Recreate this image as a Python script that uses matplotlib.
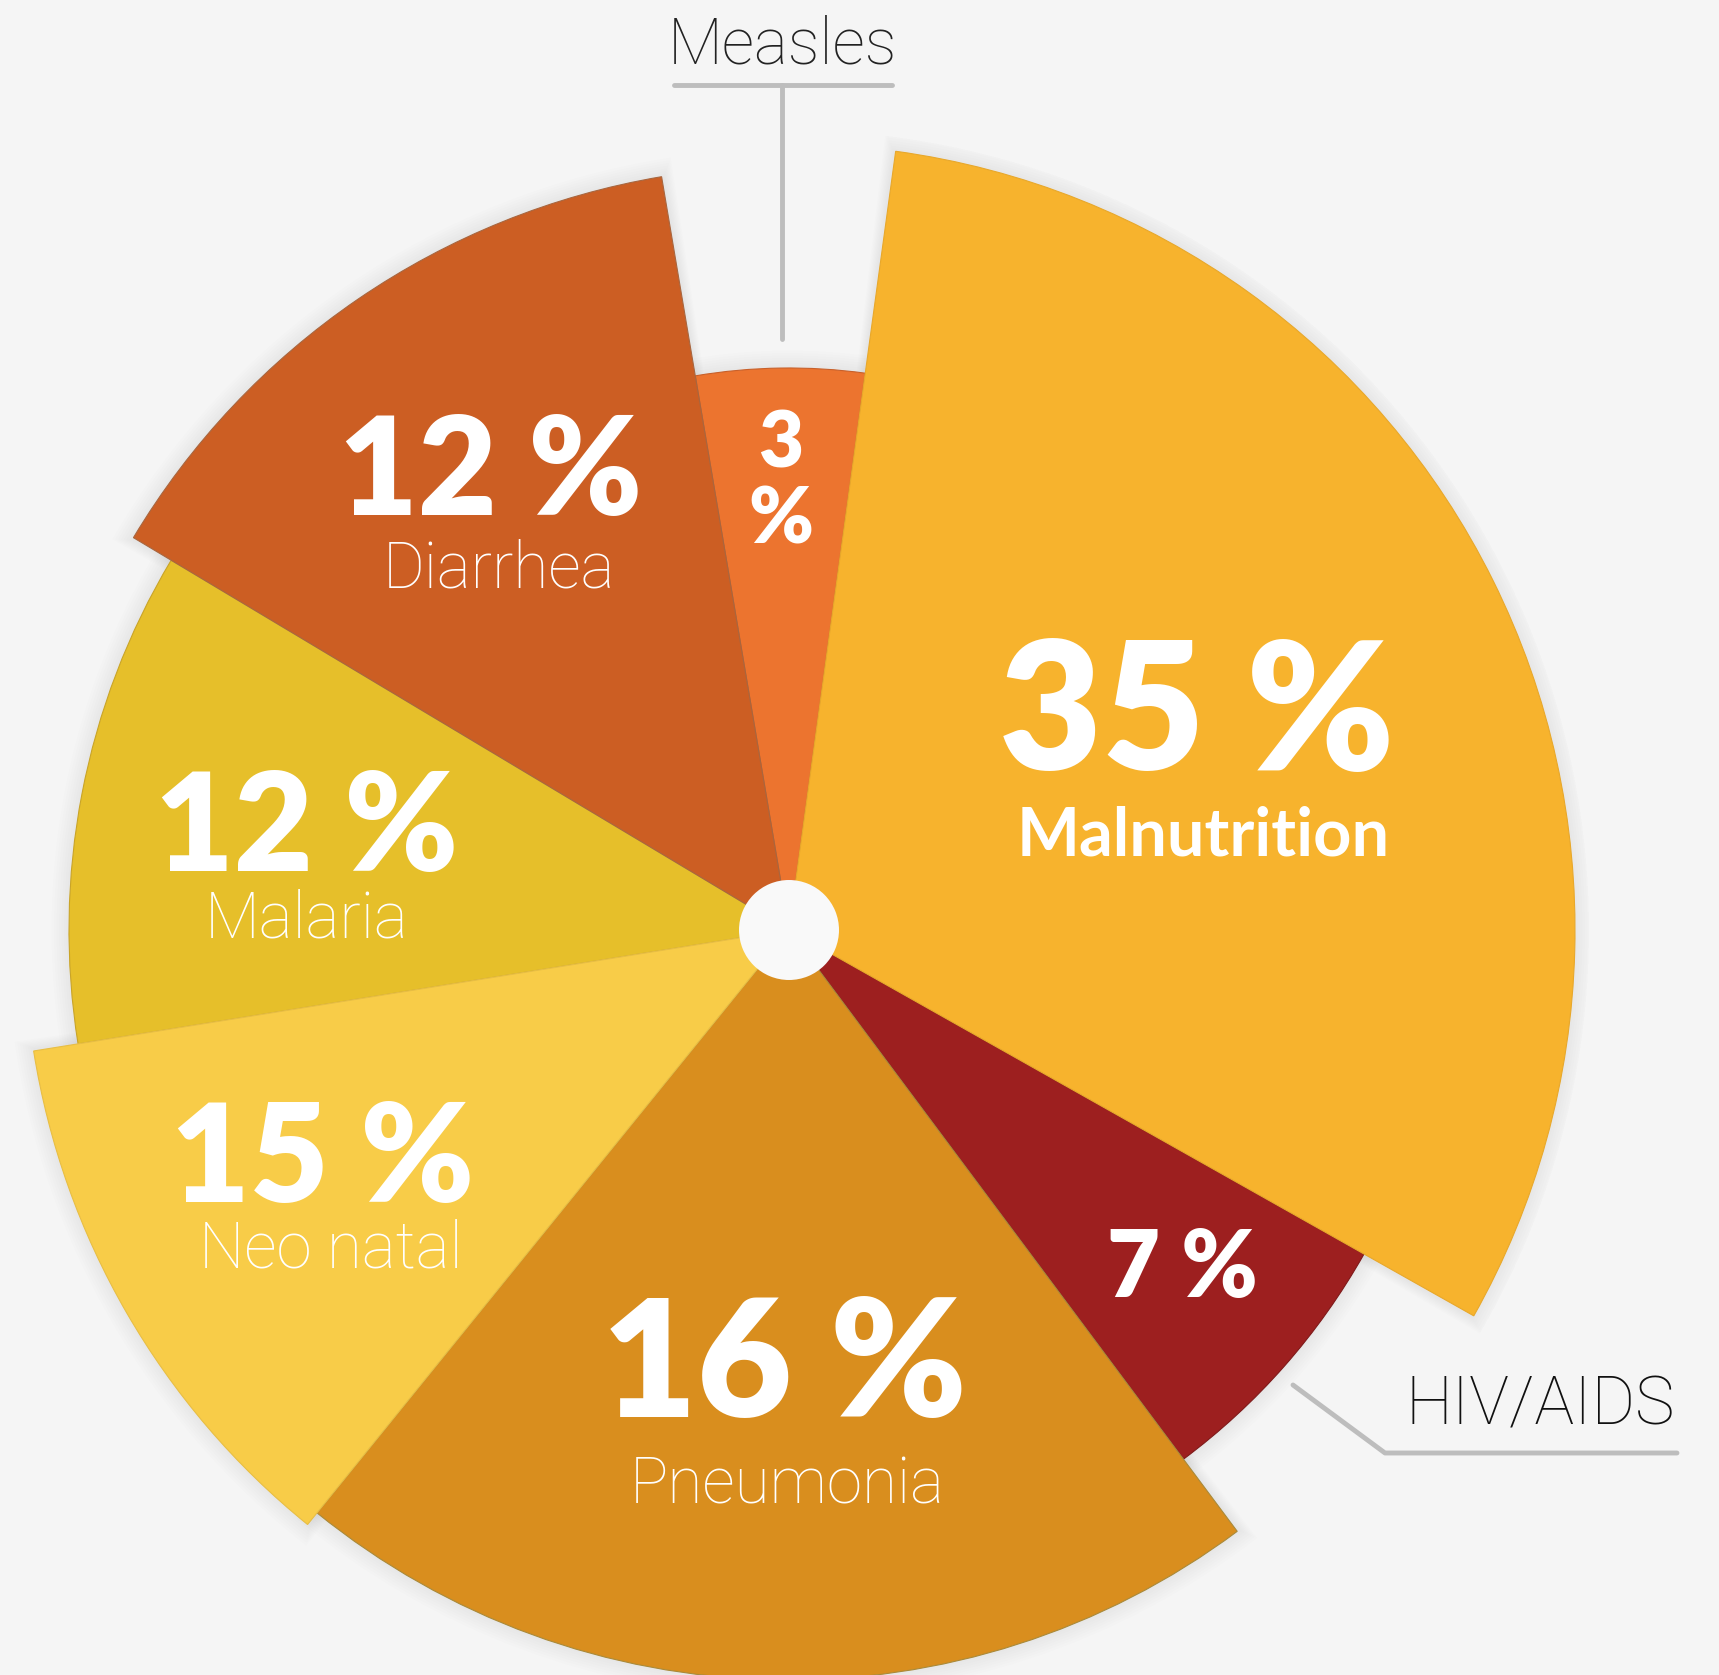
import numpy as np
import matplotlib.pyplot as plt

# Slice data (angles clockwise from 12 o'clock)
causes = ['Measles', 'Malnutrition', 'HIV/AIDS', 'Pneumonia', 'Neo natal', 'Malaria', 'Diarrhea']
share = [3, 35, 7, 16, 15, 12, 12]
start_deg = [350.4, 7.8, 119.4, 143.3, 219.0, 260.9, 300.9]
sweep_deg = [17.4, 111.6, 23.9, 75.7, 41.9, 40.0, 49.5]
reach = [562, 786, 660, 750, 765, 720, 764]
colors = ['#EC742F', '#F7B32D', '#9D1F1F', '#D98E1E', '#F8CC48', '#E6BF2A', '#CC5E23']
edges = ['#C8602A', '#E8A82B', '#7E1A1A', '#A98A3A', '#E8BE44', '#C9A428', '#A8663F']
layer = [2, 3, 2, 3, 5, 2, 4]

W, H = 1719, 1675
cx, cy = 789, 930
R = 800

fig = plt.figure(figsize=(W / 100, H / 100), dpi=100)
fig.patch.set_facecolor('#F5F5F5')

ax = fig.add_axes([(cx - R) / W, (H - cy - R) / H, 2 * R / W, 2 * R / H], projection='polar')
ax.set_theta_zero_location('N')
ax.set_theta_direction(-1)
ax.set_ylim(0, R)
ax.axis('off')

theta = np.radians(np.array(start_deg) + np.array(sweep_deg) / 2)
width = np.radians(sweep_deg)

# soft shadow under the slices
for k in range(8):
    ax.bar(theta, np.array(reach) + k * 2.5, width=width + np.radians(0.4 + k * 0.2),
           bottom=0, color='black', alpha=0.008, linewidth=0, zorder=1)

for i in range(len(causes)):
    ax.bar(theta[i], reach[i], width=width[i], bottom=0, color=colors[i],
           edgecolor=edges[i], linewidth=0.8, zorder=layer[i] + 1)

# white hub
ax.bar(0, 50, width=2 * np.pi, bottom=0, color='#F9F9F9', linewidth=0, zorder=10)

def put(x, y, s, size, weight, color='white', family='Lato', **kw):
    fig.text(x / W, 1 - y / H, s, ha='center', va='center', fontsize=size,
             fontweight=weight, color=color, family=family, **kw)

# percentages and names
put(1197, 717, '35 %', 128, 'heavy')
put(1203, 836, 'Malnutrition', 48, 'bold')
put(491, 475, '12 %', 98, 'heavy')
put(499, 570, 'Diarrhea', 46, 'light', family='Roboto')
put(781, 445, '3', 56, 'heavy')
put(781, 521, '%', 56, 'heavy')
put(307, 831, '12 %', 98, 'heavy')
put(307, 920, 'Malaria', 46, 'light', family='Roboto')
put(323, 1162, '15 %', 98, 'heavy')
put(331, 1249, 'Neo natal', 46, 'light', family='Roboto')
put(784, 1369, '16 %', 118, 'heavy')
put(787, 1485, 'Pneumonia', 46, 'light', family='Roboto')
put(1182, 1270, '7 %', 66, 'heavy')

# callouts
put(782, 46, 'Measles', 46, 'light', color='#222222', family='Roboto')
put(1540, 1407, 'HIV/AIDS', 48, 'light', color='#111111', family='Roboto')

line_kw = dict(color='#BDBDBD', linewidth=3.5, solid_capstyle='round')
fig.add_artist(plt.Line2D([674 / W, 892 / W], [1 - 85 / H, 1 - 85 / H], **line_kw))
fig.add_artist(plt.Line2D([782 / W, 782 / W], [1 - 85 / H, 1 - 339 / H], **line_kw))
fig.add_artist(plt.Line2D([1293 / W, 1385 / W, 1677 / W],
                          [1 - 1385 / H, 1 - 1453 / H, 1 - 1453 / H], **line_kw))

fig.savefig('out.png', dpi=100, facecolor=fig.get_facecolor())
